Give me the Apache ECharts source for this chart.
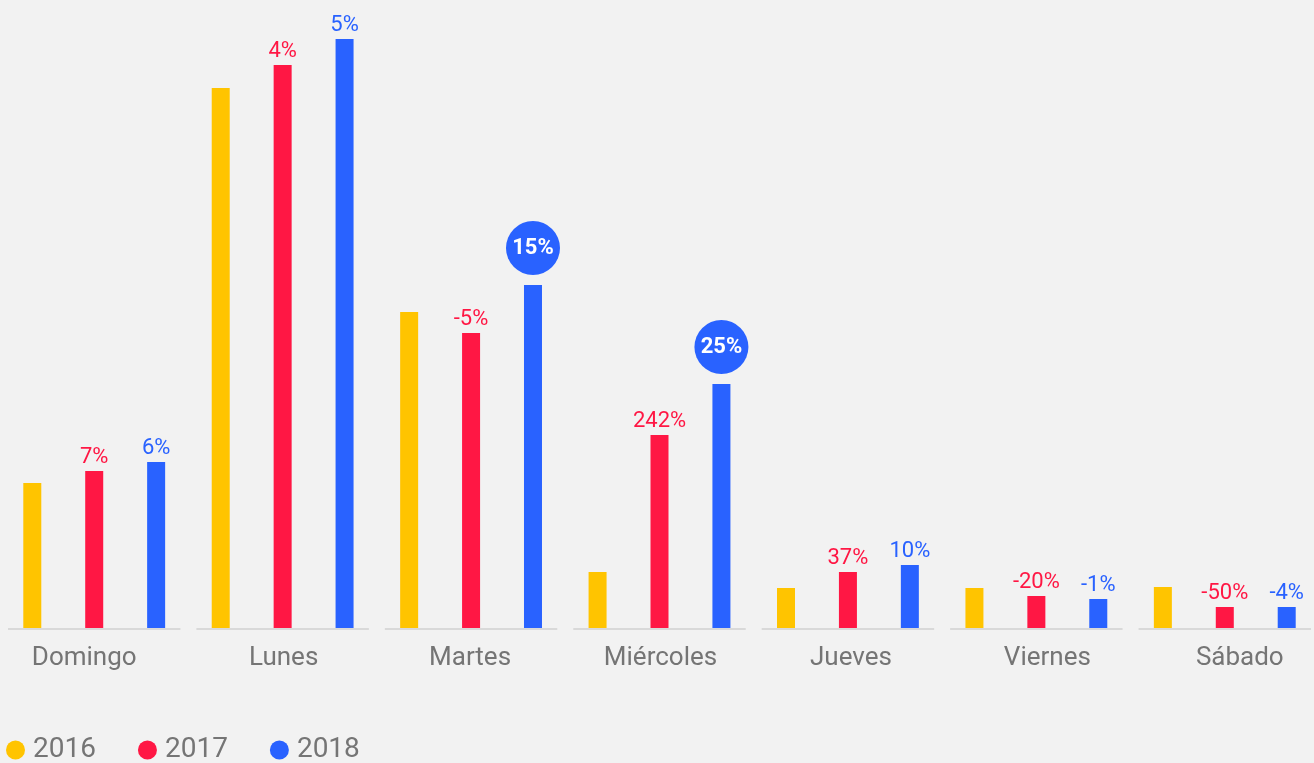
<!DOCTYPE html>
<html>
<head>
<meta charset="utf-8">
<script src="https://cdn.jsdelivr.net/npm/echarts@6/dist/echarts.min.js"></script>
<style>
html,body{margin:0;padding:0;background:#f2f2f2;}
#chart{width:1314px;height:763px;}
</style>
</head>
<body>
<div id="chart"></div>
<script>
const categories = ['Domingo','Lunes','Martes','Miércoles','Jueves','Viernes','Sábado'];
const seriesNames = ['2016','2017','2018'];
const values2016 = [145, 540, 316, 56, 40, 40, 41];
const values2017 = [157, 563, 295, 193, 56, 32, 21];
const values2018 = [166, 589, 343, 244, 63, 29, 21];
const labels2017 = ['7%','4%','-5%','242%','37%','-20%','-50%'];
const labels2018 = ['6%','5%','15%','25%','10%','-1%','-4%'];
const highlighted2018 = [2, 3];

// styling only: horizontal nudge of each category label (px)
const labelShift = [-10, 1, -1, 1, 3, 11, 15];

const colors = ['#ffc400','#ff1744','#2962ff'];
const FONT = 'Roboto, sans-serif';

const chart = echarts.init(document.getElementById('chart'), null, {renderer:'canvas'});

function labelled(values, labels, color, highlights) {
  return values.map((v, i) => {
    const item = {value: v};
    if (highlights && highlights.includes(i)) {
      item.label = {
        show: true, position: 'top', distance: 10,
        formatter: labels[i],
        color: '#ffffff', fontWeight: 'bold', fontSize: 22, fontFamily: FONT,
        backgroundColor: color, borderRadius: 27,
        width: 54, height: 54, lineHeight: 54, align: 'center', padding: 0
      };
    } else {
      item.label = {show: true, formatter: labels[i]};
    }
    return item;
  });
}

const categoryData = categories.map((c, i) => {
  const s = labelShift[i];
  return {
    value: c,
    textStyle: {padding: s >= 0 ? [0, 0, 0, 2 * s] : [0, -2 * s, 0, 0]}
  };
});

const option = {
  backgroundColor: '#f2f2f2',
  animation: false,
  color: colors,
  grid: {left: 0, width: 1319, top: 28, height: 600, containLabel: false, outerBoundsMode: 'none'},
  legend: {
    data: seriesNames,
    left: 6, top: 736, padding: 0,
    icon: 'circle', itemWidth: 19, itemHeight: 19, itemGap: 42,
    textStyle: {fontSize: 28, color: '#757575', fontFamily: FONT, padding: [0,0,0,3]}
  },
  xAxis: {
    type: 'category', data: categoryData,
    axisLine: {show: false}, axisTick: {show: false},
    axisLabel: {fontSize: 26, color: '#757575', fontFamily: FONT, margin: 17}
  },
  yAxis: {type: 'value', min: 0, max: 600, show: false, splitLine: {show: false}},
  series: [
    {
      name: '2016', type: 'bar', data: values2016,
      barWidth: 18, barGap: '244%', itemStyle: {color: colors[0]}
    },
    {
      name: '2017', type: 'bar', data: labelled(values2017, labels2017, colors[1]),
      barWidth: 18, barGap: '244%', itemStyle: {color: colors[1]},
      label: {show: true, position: 'top', distance: 3, color: colors[1], fontSize: 22, fontFamily: FONT}
    },
    {
      name: '2018', type: 'bar', data: labelled(values2018, labels2018, colors[2], highlighted2018),
      barWidth: 18, barGap: '244%', itemStyle: {color: colors[2]},
      label: {show: true, position: 'top', distance: 3, color: colors[2], fontSize: 22, fontFamily: FONT}
    },
    {
      name: 'axis', type: 'custom', silent: true, z: 1,
      data: categories.map((c, i) => [i, 0]),
      renderItem: function (params, api) {
        const p = api.coord([api.value(0), 0]);
        const bw = api.size([1, 0])[0];
        const w = bw * 0.915;
        return {
          type: 'rect',
          shape: {x: p[0] - w / 2, y: p[1], width: w, height: 2},
          style: {fill: '#d9d9d9'}
        };
      }
    }
  ]
};
chart.setOption(option);
</script>
</body>
</html>
